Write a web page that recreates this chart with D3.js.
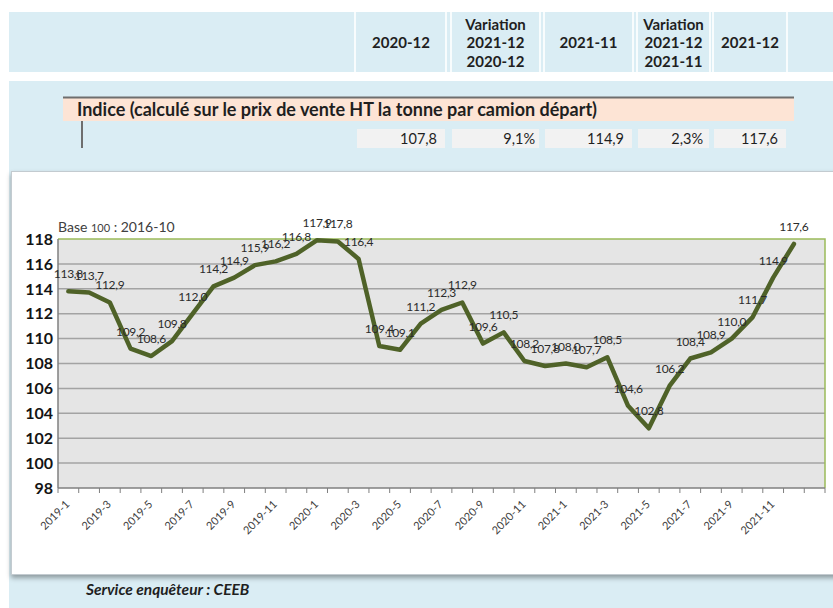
<!DOCTYPE html>
<html>
<head>
<meta charset="utf-8">
<script src="https://cdn.jsdelivr.net/npm/d3@7"></script>
<style>
  html, body { margin: 0; padding: 0; background: #fff; }
  svg { display: block; }
</style>
</head>
<body>
<div id="chart"></div>
<script>
// index series, monthly, 2019-1 .. 2021-12
const months = [
  "2019-1", "2019-2", "2019-3", "2019-4", "2019-5", "2019-6", "2019-7", "2019-8", "2019-9", "2019-10", "2019-11", "2019-12",
  "2020-1", "2020-2", "2020-3", "2020-4", "2020-5", "2020-6", "2020-7", "2020-8", "2020-9", "2020-10", "2020-11", "2020-12",
  "2021-1", "2021-2", "2021-3", "2021-4", "2021-5", "2021-6", "2021-7", "2021-8", "2021-9", "2021-10", "2021-11", "2021-12"
];
const values = [
  113.8, 113.7, 112.9, 109.2, 108.6, 109.8, 112.0, 114.2, 114.9, 115.9, 116.2, 116.8,
  117.9, 117.8, 116.4, 109.4, 109.1, 111.2, 112.3, 112.9, 109.6, 110.5, 108.2, 107.8,
  108.0, 107.7, 108.5, 104.6, 102.8, 106.2, 108.4, 108.9, 110.0, 111.7, 114.9, 117.6
];
const yTicks = [98, 100, 102, 104, 106, 108, 110, 112, 114, 116, 118];

// summary table
const headCols = [["2020-12"], ["Variation", "2021-12", "2020-12"], ["2021-11"], ["Variation", "2021-12", "2021-11"], ["2021-12"]];
const headValues = ["107,8", "9,1%", "114,9", "2,3%", "117,6"];
const rowTitle = "Indice (calculé sur le prix de vente HT la tonne par camion départ)";
const source = "Service enquêteur : CEEB";

const FONT = "Lato, 'Open Sans', sans-serif";
const BLUE = "#daedf4", PEACH = "#fde4d5", CELL = "#f2f2f2";
const OLIVE = "#4f6228", INK = "#1f1f1f", GREY = "#404040";
const fr = v => d3.format(".1f")(v).replace(".", ",");

const W = 833, H = 608;
const svg = d3.select("#chart").append("svg").attr("width", W).attr("height", H)
  .attr("font-family", FONT);

const defs = svg.append("defs");
const sh = defs.append("filter").attr("id", "shadow").attr("x", "-5%").attr("y", "-5%").attr("width", "110%").attr("height", "115%");
sh.append("feDropShadow").attr("dx", 0).attr("dy", 3).attr("stdDeviation", 2.5).attr("flood-color", "#000").attr("flood-opacity", 0.35);

// ---- header band ----
const cols = [[357, 445], [452, 539], [545, 632], [638, 709], [714, 786]];
svg.append("rect").attr("x", 9).attr("y", 12).attr("width", W - 9).attr("height", 60).attr("fill", BLUE);
[355, 446, 451, 540, 544, 633, 637, 710, 713, 787].forEach(function (sx) {
  svg.append("line").attr("x1", sx).attr("x2", sx).attr("y1", 12).attr("y2", 72).attr("stroke", "#fff").attr("stroke-width", 1.6);
});
headCols.forEach(function (lines, i) {
  const cx = (cols[i][0] + cols[i][1]) / 2;
  const t = svg.append("text").attr("text-anchor", "middle").attr("font-weight", 700)
    .attr("font-size", 15).attr("fill", INK);
  const y0 = 48 - (lines.length - 1) * 18.5 / 2;
  lines.forEach(function (l, j) {
    t.append("tspan").attr("x", cx).attr("y", y0 + j * 18.5).text(l);
  });
});

// ---- lower blue area, title row, values ----
svg.append("rect").attr("x", 9).attr("y", 81).attr("width", W - 9).attr("height", H - 81).attr("fill", BLUE);
svg.append("rect").attr("x", 63).attr("y", 97).attr("width", 731).attr("height", 24).attr("fill", PEACH);
svg.append("line").attr("x1", 63).attr("x2", 794).attr("y1", 97.5).attr("y2", 97.5).attr("stroke", "#6e6e6e").attr("stroke-width", 2);
svg.append("text").attr("x", 77).attr("y", 116).attr("font-size", 18).attr("font-weight", 700).attr("fill", INK).text(rowTitle);
svg.append("line").attr("x1", 82).attr("x2", 82).attr("y1", 121).attr("y2", 148).attr("stroke", "#6e6e6e").attr("stroke-width", 2);
const valPad = [8, 4, 8, 6, 8];
headValues.forEach(function (v, i) {
  svg.append("rect").attr("x", cols[i][0]).attr("y", 129).attr("width", cols[i][1] - cols[i][0]).attr("height", 19).attr("fill", CELL);
  svg.append("text").attr("x", cols[i][1] - valPad[i]).attr("y", 144).attr("text-anchor", "end")
    .attr("font-size", 14.5).attr("fill", INK).text(v);
});

// ---- chart box ----
svg.append("rect").attr("x", 11.5).attr("y", 171.5).attr("width", W).attr("height", 403)
  .attr("fill", "#fff").attr("stroke", "#c3cbd0").attr("filter", "url(#shadow)");

const plot = { l: 58, r: 825, t: 239, b: 488 };
const x = d3.scaleBand().domain(d3.range(months.length + 1)).range([plot.l, plot.r]);
const y = d3.scaleLinear().domain([98, 118]).range([plot.b, plot.t]);
const cx = i => x(i) + x.bandwidth() / 2;

svg.append("rect").attr("x", plot.l).attr("y", plot.t).attr("width", plot.r - plot.l).attr("height", plot.b - plot.t).attr("fill", "#e5e5e5");

// gridlines
svg.append("g").selectAll("line").data(yTicks.slice(1, -1)).join("line")
  .attr("x1", plot.l).attr("x2", plot.r).attr("y1", d => y(d)).attr("y2", d => y(d))
  .attr("stroke", "#a3a3a3").attr("stroke-width", 1.5);
// top + right border (green)
svg.append("path").attr("d", "M" + plot.l + "," + y(118) + "H" + plot.r + "V" + plot.b)
  .attr("fill", "none").attr("stroke", "#9bbb59").attr("stroke-width", 1.5);

// y axis labels
svg.append("g").selectAll("text").data(yTicks).join("text")
  .attr("x", 53).attr("y", d => y(d)).attr("dy", "0.36em").attr("text-anchor", "end")
  .attr("font-size", 16).attr("font-weight", 700).attr("fill", "#141414").text(d => d);

// axis lines + ticks
svg.append("line").attr("x1", plot.l).attr("x2", plot.r).attr("y1", plot.b).attr("y2", plot.b).attr("stroke", "#7f7f7f").attr("stroke-width", 1.5);
svg.append("line").attr("x1", plot.l).attr("x2", plot.l).attr("y1", plot.t).attr("y2", plot.b).attr("stroke", "#7f7f7f").attr("stroke-width", 1.5);
svg.append("g").selectAll("line").data(d3.range(months.length + 2)).join("line")
  .attr("x1", i => i <= months.length ? x(i) : plot.r).attr("x2", i => i <= months.length ? x(i) : plot.r)
  .attr("y1", plot.b).attr("y2", plot.b + 5).attr("stroke", "#7f7f7f").attr("stroke-width", 1);

// x labels every other month
svg.append("g").selectAll("text").data(months.map((m, i) => ({ m, i })).filter(d => d.i % 2 === 0)).join("text")
  .attr("transform", d => "translate(" + (cx(d.i) + 2) + "," + (plot.b + 17) + ") rotate(-45)")
  .attr("text-anchor", "end").attr("font-size", 11).attr("fill", GREY).text(d => d.m);

// line
const line = d3.line().x((d, i) => cx(i)).y(d => y(d));
svg.append("path").attr("d", line(values)).attr("fill", "none").attr("stroke", OLIVE)
  .attr("stroke-width", 4.5).attr("stroke-linejoin", "round").attr("stroke-linecap", "round");

// data labels
svg.append("g").selectAll("text").data(values).join("text")
  .attr("x", (d, i) => cx(i)).attr("y", d => y(d) - 13).attr("text-anchor", "middle")
  .attr("font-size", 12).attr("letter-spacing", -0.3).attr("fill", "#2b2b2b").text(d => fr(d));

// base note
const base = svg.append("text").attr("x", 58).attr("y", 232).attr("font-size", 14).attr("fill", GREY);
base.append("tspan").text("Base ");
base.append("tspan").attr("font-size", 11).text("100");
base.append("tspan").text(" : 2016-10");

// source
svg.append("text").attr("x", 86).attr("y", 595).attr("font-size", 15.5).attr("font-weight", 700)
  .attr("font-style", "italic").attr("fill", INK).text(source);
</script>
</body>
</html>
